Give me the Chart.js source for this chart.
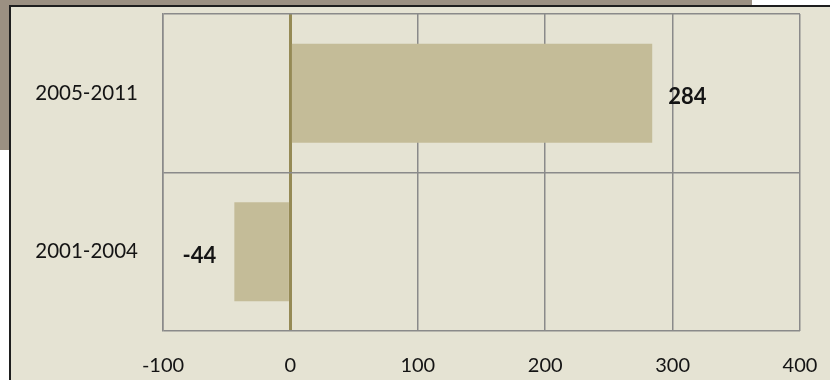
<!DOCTYPE html>
<html lang="en">
<head>
  <meta charset="UTF-8">
  <title>Change by period</title>
  <script src="https://cdn.jsdelivr.net/npm/chart.js"></script>
  <style>
    html, body { margin: 0; padding: 0; background: #fff; }
    #frame { position: relative; width: 830px; height: 380px; overflow: hidden; }
    .slide { position: absolute; background: #9b9082; }
    #panel {
      position: absolute; left: 9px; top: 5px; right: 0; bottom: 0;
      background: #e5e3d3; border-left: 2px solid #1e1e1e; border-top: 2px solid #1e1e1e;
    }
    #chart { position: absolute; left: 0; top: 0; }
  </style>
</head>
<body>
  <div id="frame">
    <div class="slide" style="left:0;top:0;width:752px;height:6px;"></div>
    <div class="slide" style="left:0;top:0;width:10px;height:150px;"></div>
    <div id="panel"></div>
    <canvas id="chart" width="830" height="380"></canvas>
  </div>

  <script>
    // Periods (top to bottom) and net change for each
    const periods = ['2005-2011', '2001-2004'];
    const changes = [284, -44];
    const axisTicks = [-100, 0, 100, 200, 300, 400];

    const textColor = '#141414';
    const gridColor = '#8a8a8a';

    // Writes each bar's value just past its end
    const valueLabels = {
      id: 'valueLabels',
      afterDatasetsDraw(chart) {
        const ctx = chart.ctx;
        const xs = chart.scales.x;
        const ys = chart.scales.y;
        ctx.save();
        ctx.font = 'bold 22px Lato';
        ctx.fillStyle = textColor;
        ctx.textBaseline = 'middle';
        changes.forEach((v, i) => {
          const x = xs.getPixelForValue(v);
          const y = ys.getPixelForValue(i) + 4;
          if (v >= 0) {
            ctx.textAlign = 'left';
            ctx.fillText(String(v), x + 16, y);
          } else {
            ctx.textAlign = 'right';
            ctx.fillText(String(v), x - 18, y);
          }
        });
        ctx.restore();
      }
    };

    new Chart(document.getElementById('chart'), {
      type: 'bar',
      data: {
        labels: periods,
        datasets: [{
          data: changes,
          backgroundColor: '#c4bc98',
          borderWidth: 0,
          barPercentage: 0.625,
          categoryPercentage: 1
        }]
      },
      options: {
        indexAxis: 'y',
        responsive: false,
        animation: false,
        layout: { padding: { top: 14, right: 30, left: 0, bottom: 0 } },
        plugins: {
          legend: { display: false },
          tooltip: { enabled: false }
        },
        scales: {
          x: {
            type: 'linear',
            min: axisTicks[0],
            max: axisTicks[axisTicks.length - 1],
            afterBuildTicks(scale) {
              scale.ticks = axisTicks.map(v => ({ value: v }));
            },
            afterFit(scale) {
              scale.height = 49;
              scale.paddingLeft = 0;
              scale.paddingRight = 0;
            },
            grid: {
              drawTicks: false,
              color: ctx => (ctx.tick && ctx.tick.value === 0) ? '#958a55' : gridColor,
              lineWidth: ctx => (ctx.tick && ctx.tick.value === 0) ? 3 : 1.5
            },
            border: { display: false },
            ticks: {
              color: textColor,
              font: { family: 'Lato', size: 20 },
              padding: 23
            }
          },
          y: {
            afterFit(scale) {
              scale.width = 163;
              scale.paddingTop = 0;
              scale.paddingBottom = 0;
            },
            grid: {
              drawTicks: false,
              offset: true,
              color: gridColor,
              lineWidth: 1.5
            },
            border: { display: true, color: gridColor, width: 1.5 },
            ticks: {
              color: textColor,
              font: { family: 'Lato', size: 20.5 },
              padding: 25
            }
          }
        }
      },
      plugins: [valueLabels]
    });
  </script>
</body>
</html>
